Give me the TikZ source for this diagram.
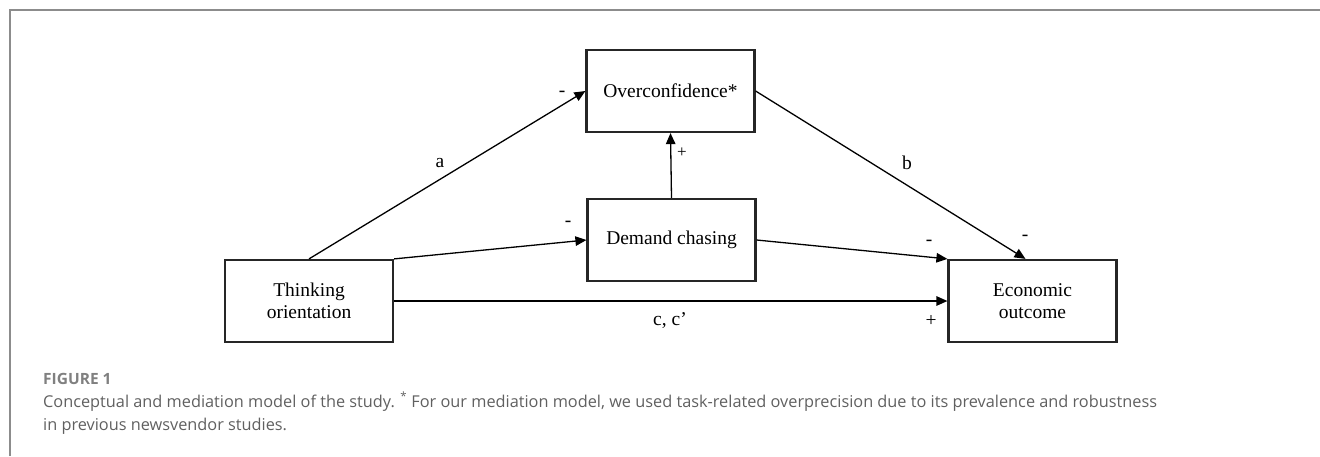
\documentclass[tikz,border=0pt]{standalone}
\usepackage{fontspec}
\setmainfont{Liberation Serif}
\newfontfamily\capfont{Open Sans}
\usepackage{tikz}
\usepackage{xcolor}
\usetikzlibrary{arrows.meta}

\definecolor{framegray}{HTML}{8C8C8C}
\definecolor{capgray}{HTML}{606060}

\begin{document}
\begin{tikzpicture}[x=1pt,y=-1pt,
        varbox/.style={draw=black!85,line width=2.2pt,minimum width=168pt,minimum height=82pt,
            align=center,font=\fontsize{19.5}{22}\selectfont,inner sep=0pt},
        path/.style={line width=1.3pt,-{Triangle[length=11pt,width=9.5pt]}},
        lbl/.style={font=\fontsize{19.5}{22}\selectfont},
        caption/.style={anchor=base west,inner sep=0pt,text=capgray,font=\capfont\fontsize{16.3}{20}\selectfont}]
        \useasboundingbox (0,0) rectangle (1320,456);

        % Frame
        \draw[framegray,line width=1.5pt] (10,456) -- (10,10) -- (1320,10);

        % Variables
        \node[varbox] (think) at (309,301) {Thinking\\orientation};
        \node[varbox] (over) at (670.5,91) {Overconfidence*};
        \node[varbox] (demand) at (671.5,240) {Demand chasing};
        \node[varbox] (econ) at (1032.5,301) {Economic\\outcome};

        % Paths
        \draw[path] (think.north) -- (over.west);
        \draw[path] (think.north east) -- (demand.west);
        \draw[path] (think.east) -- (econ.west);
        \draw[path] (demand.north) -- (over.south);
        \draw[path] (demand.east) -- (econ.north west);
        \draw[path] (over.east) -- ([xshift=-7pt]econ.north);

        % Path labels
        \node[lbl] (la) at (440,163) {a};
        \node[lbl] (lb) at (907,163) {b};
        \node[lbl] (lc) at (670,321) {c, c’};
        \node[lbl] (signa) at (562,94) {-};
        \node[lbl] (signd) at (568,224) {-};
        \node[lbl] (signde) at (929,243) {-};
        \node[lbl] (signb) at (1025,238) {-};
        \node[lbl] (signc) at (931,321) {+};
        \node[font=\fontsize{17}{19}\selectfont] (signdo) at (682,153) {+};

        % Caption
        \node[caption,font=\capfont\bfseries\fontsize{15.5}{20}\selectfont,text=capgray!80!white] (fig) at (43,384) {FIGURE 1};
        \node[caption] (cap1) at (43,407) {Conceptual and mediation model of the study. \textsuperscript{*} For our mediation model, we used task-related overprecision due to its prevalence and robustness};
        \node[caption] (cap2) at (43,430) {in previous newsvendor studies.};
    \end{tikzpicture}
\end{document}
